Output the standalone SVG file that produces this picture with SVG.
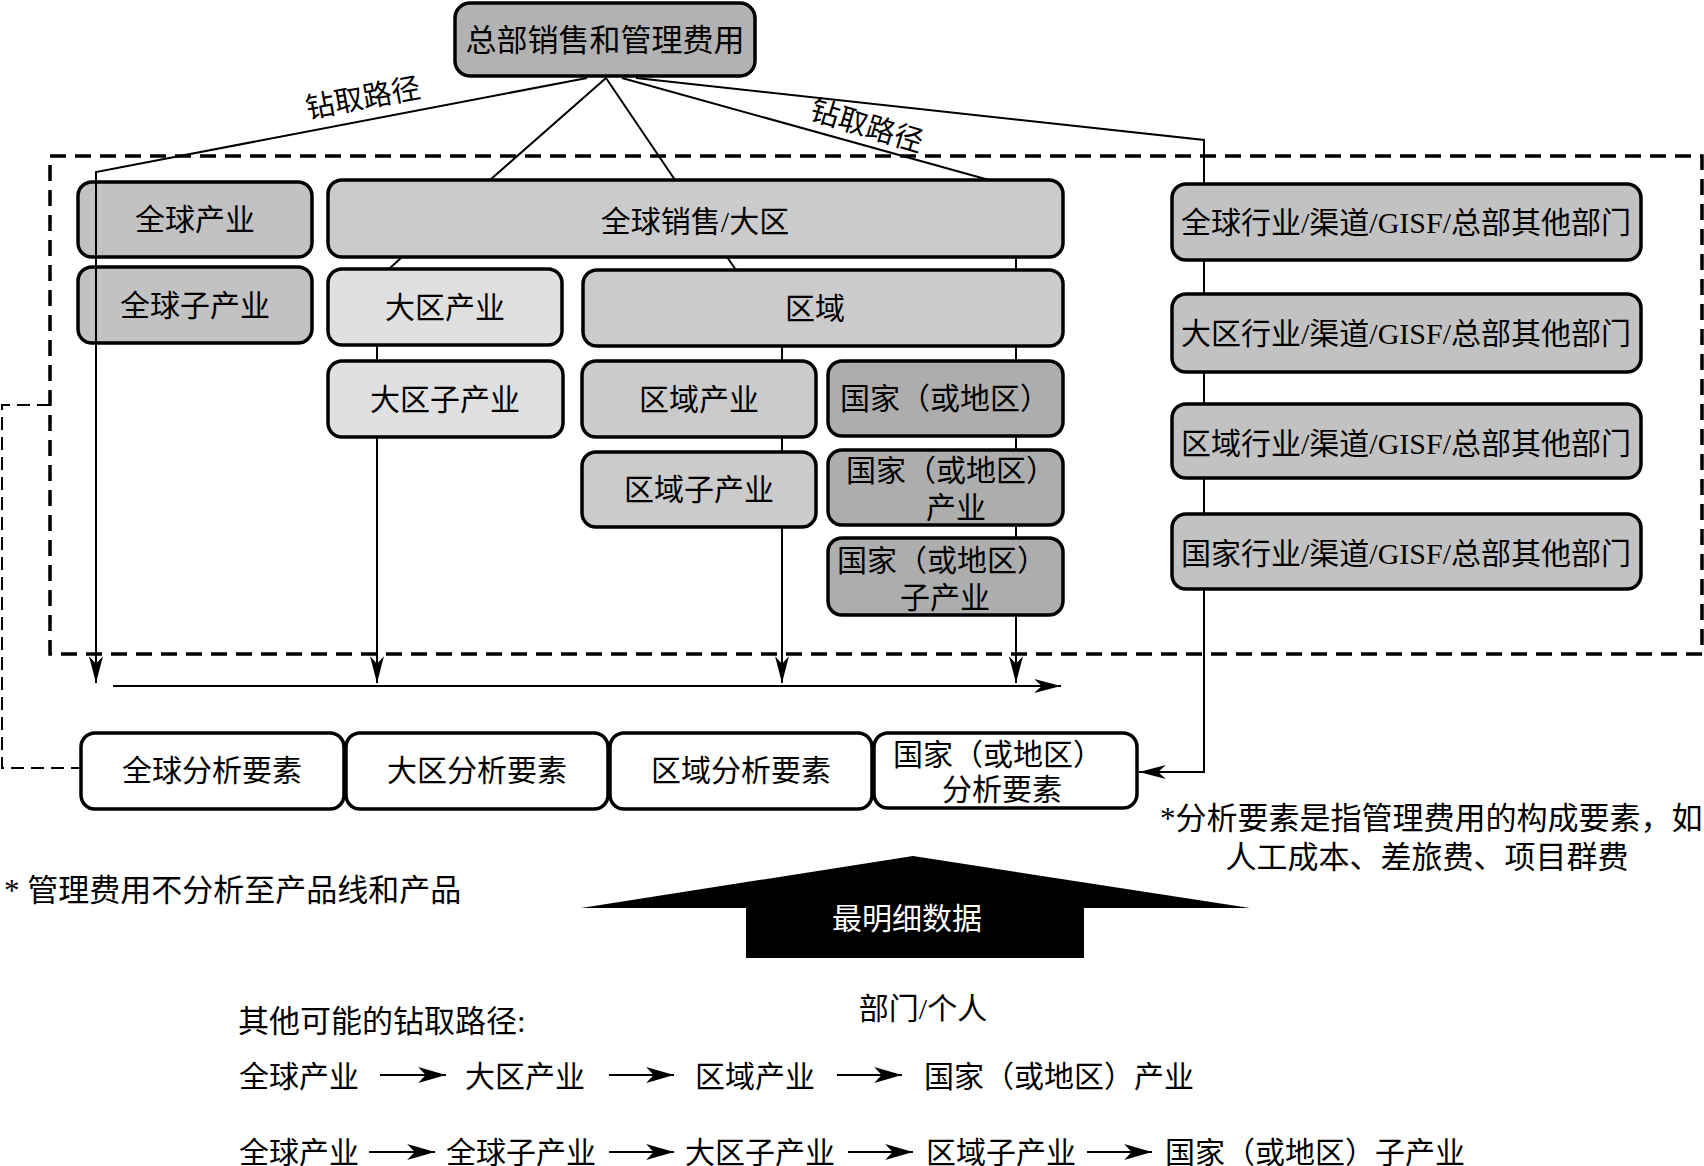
<svg xmlns="http://www.w3.org/2000/svg" width="1704" height="1166" viewBox="0 0 1704 1166">
<style>
text{font-family:"Liberation Serif","Noto Sans CJK SC",serif;font-size:30px;fill:#000}
.c{text-anchor:middle;dominant-baseline:central}
.s{dominant-baseline:central}
.box{stroke:#000;stroke-width:3.5}
.ln{fill:none;stroke:#000;stroke-width:2}
.g1{fill:#b2b2b2}.g2{fill:#c2c2c2}.g3{fill:#cbcbcb}.g4{fill:#e0e0e0}.g5{fill:#adadad}.w{fill:#fff}
</style>
<defs>
<marker id="ah" markerUnits="userSpaceOnUse" markerWidth="30" markerHeight="20" viewBox="-26 -8 28 16" refX="0" refY="0" orient="auto">
<path d="M0,0 L-25,-6.5 L-18,0 L-25,6.5 Z" fill="#000"/>
</marker>
<marker id="ah2" markerUnits="userSpaceOnUse" markerWidth="30" markerHeight="20" viewBox="-26 -9 28 18" refX="0" refY="0" orient="auto">
<path d="M0,0 L-26,-7.5 L-19,0 L-26,7.5 Z" fill="#000"/>
</marker>
</defs>
<rect width="1704" height="1166" fill="#fff"/>
<rect id="scope" x="50" y="156" width="1652" height="498" fill="none" stroke="#000" stroke-width="3.5" stroke-dasharray="16 9"/>

<g id="n-top"><rect class="box g1" x="455" y="3" width="300" height="73" rx="15"/><text class="c" x="605" y="40" style="font-size:31px">总部销售和管理费用</text></g>
<g id="n-gind"><rect class="box g2" x="78" y="182" width="234" height="75" rx="14"/><text class="c" x="195" y="219">全球产业</text></g>
<g id="n-gsub"><rect class="box g2" x="78" y="267" width="234" height="76" rx="14"/><text class="c" x="195" y="305">全球子产业</text></g>
<g id="n-gsales"><rect class="box g3" x="328" y="180" width="735" height="77" rx="14"/><text class="c" x="695" y="221">全球销售/大区</text></g>
<g id="n-rind"><rect class="box g4" x="328" y="269" width="234" height="76" rx="14"/><text class="c" x="445" y="307">大区产业</text></g>
<g id="n-area"><rect class="box g3" x="583" y="270" width="480" height="76" rx="14"/><text class="c" x="815" y="308">区域</text></g>
<g id="n-rsub"><rect class="box g4" x="328" y="361" width="235" height="76" rx="14"/><text class="c" x="445" y="399">大区子产业</text></g>
<g id="n-aind"><rect class="box g3" x="582" y="361" width="234" height="76" rx="14"/><text class="c" x="699" y="399">区域产业</text></g>
<g id="n-asub"><rect class="box g3" x="582" y="452" width="234" height="75" rx="14"/><text class="c" x="699" y="489">区域子产业</text></g>
<g id="n-country"><rect class="box g5" x="828" y="361" width="235" height="75" rx="14"/><text class="c" x="945" y="398">国家（或地区）</text></g>
<g id="n-cind"><rect class="box g5" x="828" y="450" width="235" height="75" rx="14"/><text class="c" x="951" y="470">国家（或地区）</text><text class="c" x="956" y="507">产业</text></g>
<g id="n-csub"><rect class="box g5" x="828" y="538" width="235" height="77" rx="14"/><text class="c" x="942" y="560">国家（或地区）</text><text class="c" x="945" y="597">子产业</text></g>

<g id="n-hq1"><rect class="box g2" x="1172" y="184" width="469" height="76" rx="14"/><text class="c" x="1406" y="222">全球行业/渠道/GISF/总部其他部门</text></g>
<g id="n-hq2"><rect class="box g2" x="1172" y="294" width="469" height="78" rx="14"/><text class="c" x="1406" y="333">大区行业/渠道/GISF/总部其他部门</text></g>
<g id="n-hq3"><rect class="box g2" x="1172" y="404" width="469" height="74" rx="14"/><text class="c" x="1406" y="443">区域行业/渠道/GISF/总部其他部门</text></g>
<g id="n-hq4"><rect class="box g2" x="1172" y="514" width="469" height="75" rx="14"/><text class="c" x="1406" y="553">国家行业/渠道/GISF/总部其他部门</text></g>

<g id="n-e1"><rect class="box w" x="81" y="733" width="263" height="76" rx="14"/><text class="c" x="212" y="770">全球分析要素</text></g>
<g id="n-e2"><rect class="box w" x="346" y="733" width="262" height="76" rx="14"/><text class="c" x="477" y="770">大区分析要素</text></g>
<g id="n-e3"><rect class="box w" x="610" y="733" width="262" height="76" rx="14"/><text class="c" x="741" y="770">区域分析要素</text></g>
<g id="n-e4"><rect class="box w" x="874" y="733" width="263" height="75" rx="14"/><text class="c" x="998" y="754">国家（或地区）</text><text class="c" x="1002" y="789">分析要素</text></g>

<g id="connectors">
<path class="ln" d="M587,78 L96,172 V683" marker-end="url(#ah)"/>
<path class="ln" d="M606,78 L490,180"/>
<path class="ln" d="M402,257 L389,269"/>
<path class="ln" d="M606,78 L675,180"/>
<path class="ln" d="M727,257 L736,270"/>
<path class="ln" d="M622,78 L989,180"/>
<path class="ln" d="M636,78 L1204,140 V184 M1204,260 V294 M1204,372 V404 M1204,478 V514 M1204,589 V772 H1139" marker-end="url(#ah)"/>
<path class="ln" d="M377,345 V361 M377,437 V683" marker-end="url(#ah)"/>
<path class="ln" d="M782,346 V361 M782,437 V452 M782,527 V683" marker-end="url(#ah)"/>
<path class="ln" d="M1016,257 V270 M1016,346 V361 M1016,436 V450 M1016,525 V538 M1016,615 V683" marker-end="url(#ah)"/>
<path class="ln" d="M113,686 H1061" marker-end="url(#ah)"/>
<path class="ln" d="M50,405 H2 V768 H80" stroke-width="3" stroke-dasharray="13 7"/>
<path class="ln" stroke-width="3" d="M380,1075 H446" marker-end="url(#ah2)"/>
<path class="ln" stroke-width="3" d="M609,1075 H674" marker-end="url(#ah2)"/>
<path class="ln" stroke-width="3" d="M837,1075 H902" marker-end="url(#ah2)"/>
<path class="ln" stroke-width="3" d="M369,1152 H435" marker-end="url(#ah2)"/>
<path class="ln" stroke-width="3" d="M609,1152 H674" marker-end="url(#ah2)"/>
<path class="ln" stroke-width="3" d="M848,1152 H913" marker-end="url(#ah2)"/>
<path class="ln" stroke-width="3" d="M1087,1152 H1152" marker-end="url(#ah2)"/>
</g>

<text class="c" transform="translate(363,98) rotate(-10.5)" style="font-size:29px">钻取路径</text>
<text class="c" transform="translate(867,126) rotate(17)" style="font-size:29px">钻取路径</text>

<text class="s" x="1160" y="818" style="font-size:31px">*分析要素是指管理费用的构成要素，如</text>
<text class="c" x="1427" y="857" style="font-size:31px">人工成本、差旅费、项目群费</text>
<text class="s" x="4" y="890" style="font-size:31px">* 管理费用不分析至产品线和产品</text>

<g id="bigarrow">
<polygon points="581,908 913,856 1250,908 1084,908 1084,958 746,958 746,908" fill="#000"/>
<text class="c" x="907" y="918" style="fill:#fff">最明细数据</text>
</g>
<text class="c" x="923" y="1008">部门/个人</text>
<text class="s" x="238" y="1021" style="font-size:31px">其他可能的钻取路径:</text>

<text class="s" x="239" y="1076">全球产业</text>
<text class="s" x="465" y="1076">大区产业</text>
<text class="s" x="695" y="1076">区域产业</text>
<text class="s" x="924" y="1076">国家（或地区）产业</text>

<text class="s" x="239" y="1152">全球产业</text>
<text class="s" x="446" y="1152">全球子产业</text>
<text class="s" x="685" y="1152">大区子产业</text>
<text class="s" x="926" y="1152">区域子产业</text>
<text class="s" x="1165" y="1152">国家（或地区）子产业</text>
</svg>
